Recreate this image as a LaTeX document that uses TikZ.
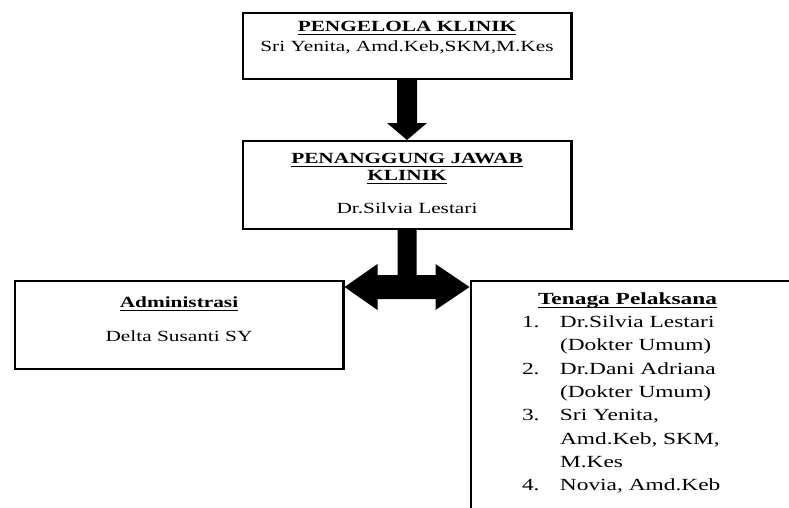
\documentclass[tikz,border=0pt]{standalone}
\usepackage{fontspec}
\setmainfont{Liberation Serif}[FakeStretch=1.375]
\usetikzlibrary{trees}
\newsavebox{\garisbox}
\newcommand{\garis}[1]{\leavevmode\sbox{\garisbox}{\textbf{#1}}\rlap{\usebox{\garisbox}}\rule[-3.6bp]{\wd\garisbox}{1.2bp}}
\newcommand{\isi}[2]{\parbox[c][#1][t]{328.6bp}{#2}}
\newcommand{\nomor}[2]{\hspace*{51.3bp}\makebox[38bp][l]{#1}#2}
\newcommand{\lanjut}[1]{\hspace*{89.3bp}#1}

\begin{document}
\begin{tikzpicture}[
                   grow = down,
   growth parent anchor = north,
edge from parent/.style = {draw=none},
      every node/.style = {draw, line width=2.4bp, inner sep=0pt, anchor=north},
       level 1/.style = {level distance=128bp},
       level 2/.style = {level distance=140bp, sibling distance=456bp},
            panah/.style = {fill=black},
                     ]
\useasboundingbox (0,0) rectangle (789bp,-508bp);
\clip (0,0) rectangle (789bp,-508bp);
\node (pengelola) at (407bp,-12bp) {\isi{65.6bp}{\fontsize{15.5bp}{19.7bp}\selectfont\centering
        \vspace*{8.4bp}
        \garis{PENGELOLA KLINIK}\\
        Sri Yenita, Amd.Keb,SKM,M.Kes}}
    child {node (pj) {\isi{87.6bp}{\fontsize{15.5bp}{17bp}\selectfont\centering
        \vspace*{11.7bp}
        \garis{PENANGGUNG JAWAB}\\
        \garis{KLINIK}\\[16.3bp]
        Dr.Silvia Lestari}}
        child {node (admin) {\isi{87.6bp}{\fontsize{15.5bp}{17bp}\selectfont\centering
            \vspace*{15.9bp}
            \garis{Administrasi}\\[17bp]
            Delta Susanti SY}}
                }
        child {node (tenaga) {\isi{260bp}{\fontsize{17bp}{23.3bp}\selectfont\raggedright
            \vspace*{11.2bp}
            \hspace*{67.3bp}\garis{Tenaga Pelaksana}\\
            \nomor{1.}{Dr.Silvia Lestari}\\
            \lanjut{(Dokter Umum)}\\
            \nomor{2.}{Dr.Dani Adriana}\\
            \lanjut{(Dokter Umum)}\\
            \nomor{3.}{Sri Yenita,}\\
            \lanjut{Amd.Keb, SKM,}\\
            \lanjut{M.Kes}\\
            \nomor{4.}{Novia, Amd.Keb}}}
                }
            };
% panah ke bawah
\fill[panah] ([xshift=-10bp]pengelola.south) -- ([xshift=10bp]pengelola.south)
    -- ([shift={(10bp,17bp)}]pj.north) -- ([shift={(20bp,17bp)}]pj.north) -- (pj.north)
    -- ([shift={(-20bp,17bp)}]pj.north) -- ([shift={(-10bp,17bp)}]pj.north) -- cycle;
% panah dua arah
\coordinate (simpang) at ([yshift=-57bp]pj.south);
\coordinate (kiri) at (admin.east |- simpang);
\coordinate (kanan) at (tenaga.west |- simpang);
\fill[panah] ([xshift=-9.5bp]pj.south) -- ([xshift=9.5bp]pj.south)
    -- ([shift={(9.5bp,12bp)}]simpang) -- ([shift={(-34bp,12bp)}]kanan)
    -- ([shift={(-34bp,23bp)}]kanan) -- (kanan) -- ([shift={(-34bp,-23bp)}]kanan)
    -- ([shift={(-34bp,-12bp)}]kanan) -- ([shift={(33bp,-12bp)}]kiri)
    -- ([shift={(33bp,-23bp)}]kiri) -- (kiri) -- ([shift={(33bp,23bp)}]kiri)
    -- ([shift={(33bp,12bp)}]kiri) -- ([shift={(-9.5bp,12bp)}]simpang) -- cycle;
\end{tikzpicture}
\end{document}
